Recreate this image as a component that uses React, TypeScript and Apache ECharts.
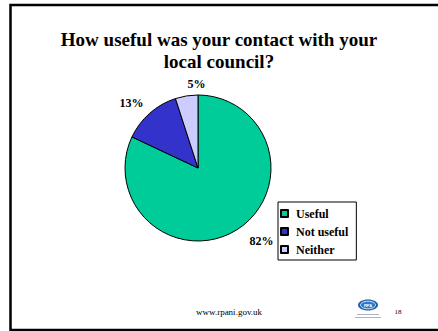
import React, { useEffect, useRef } from "react";
import * as echarts from "echarts";

const categories = ["Useful", "Not useful", "Neither"];
const values = [82, 13, 5];
const colors = ["#00CC99", "#3333CC", "#CCCCFF"];
const titleLines = ["How useful was your contact with your", "local council?"];
const footerUrl = "www.rpani.gov.uk";
const pageNumber = "18";

const SERIF = "'Liberation Serif', 'Times New Roman', serif";

export default function App() {
  const ref = useRef<HTMLDivElement>(null);
  useEffect(() => {
    if (!ref.current) return;
    const chart = echarts.init(ref.current, undefined, { renderer: "svg" });
    chart.setOption({
      animation: false,
      backgroundColor: "#ffffff",
      title: {
        text: titleLines.join("\n"),
        left: 214,
        top: 23,
        textAlign: "center",
        textStyle: {
          fontFamily: SERIF,
          fontWeight: "bold",
          fontSize: 19,
          lineHeight: 22,
          color: "#000",
        },
      },
      legend: {
        orient: "vertical",
        left: 278,
        top: 202,
        padding: [5, 8, 4, 2],
        borderColor: "#000",
        borderWidth: 1,
        borderRadius: 0,
        itemWidth: 7,
        itemHeight: 7,
        itemGap: 5,
        icon: "rect",
        data: categories,
        textStyle: {
          fontFamily: SERIF,
          fontWeight: "bold",
          fontSize: 12,
          lineHeight: 13,
          color: "#000",
          padding: [0, 0, 0, 3],
        },
      },
      series: [
        {
          type: "pie",
          center: [198, 168],
          radius: 73,
          startAngle: 90,
          clockwise: true,
          data: categories.map((c, i) => ({
            name: c,
            value: values[i],
            itemStyle: { color: colors[i], borderColor: "#000", borderWidth: 1 },
          })),
          label: {
            show: true,
            position: "outside",
            formatter: "{c}%",
            fontFamily: SERIF,
            fontWeight: "bold",
            fontSize: 12,
            color: "#000",
          },
          labelLine: { show: false, length: 14, length2: 0 },
          labelLayout: (params: any) =>
            params.dataIndex === 2 ? { dx: 26, dy: 2 } : params.dataIndex === 1 ? { dx: 8 } : {},
          emphasis: { disabled: true },
        },
      ],
      graphic: [
        {
          type: "rect",
          shape: { x: 10.5, y: 5, width: 440, height: 325 },
          style: { fill: "none", stroke: "#000", lineWidth: 2.5 },
          silent: true,
        },
        {
          type: "text",
          x: 229,
          y: 312,
          style: {
            text: footerUrl,
            font: `9px ${SERIF}`,
            fill: "#000",
            textAlign: "center",
            textVerticalAlign: "middle",
          },
        },
        {
          type: "text",
          x: 398,
          y: 312,
          style: {
            text: pageNumber,
            font: `7px ${SERIF}`,
            fill: "#000",
            textAlign: "center",
            textVerticalAlign: "middle",
          },
        },
        {
          type: "ellipse",
          shape: { cx: 368, cy: 305, rx: 10, ry: 5.5 },
          style: { fill: "#1f5fae" },
        },
        {
          type: "ellipse",
          shape: { cx: 368, cy: 305, rx: 7.5, ry: 3.8 },
          style: { fill: "#2e78c8", stroke: "#ffffff", lineWidth: 0.8 },
        },
        {
          type: "text",
          x: 368,
          y: 305,
          style: {
            text: "RPA",
            font: "bold 4px sans-serif",
            fill: "#ffffff",
            textAlign: "center",
            textVerticalAlign: "middle",
          },
        },
        {
          type: "rect",
          shape: { x: 357, y: 314, width: 22, height: 1 },
          style: { fill: "#a8b4cc" },
        },
        {
          type: "rect",
          shape: { x: 355, y: 317, width: 26, height: 1 },
          style: { fill: "#a8b4cc" },
        },
      ],
    });
    return () => chart.dispose();
  }, []);
  return (
    <div
      ref={ref}
      style={{ position: "fixed", left: 0, top: 0, width: 438, height: 331 }}
    />
  );
}
